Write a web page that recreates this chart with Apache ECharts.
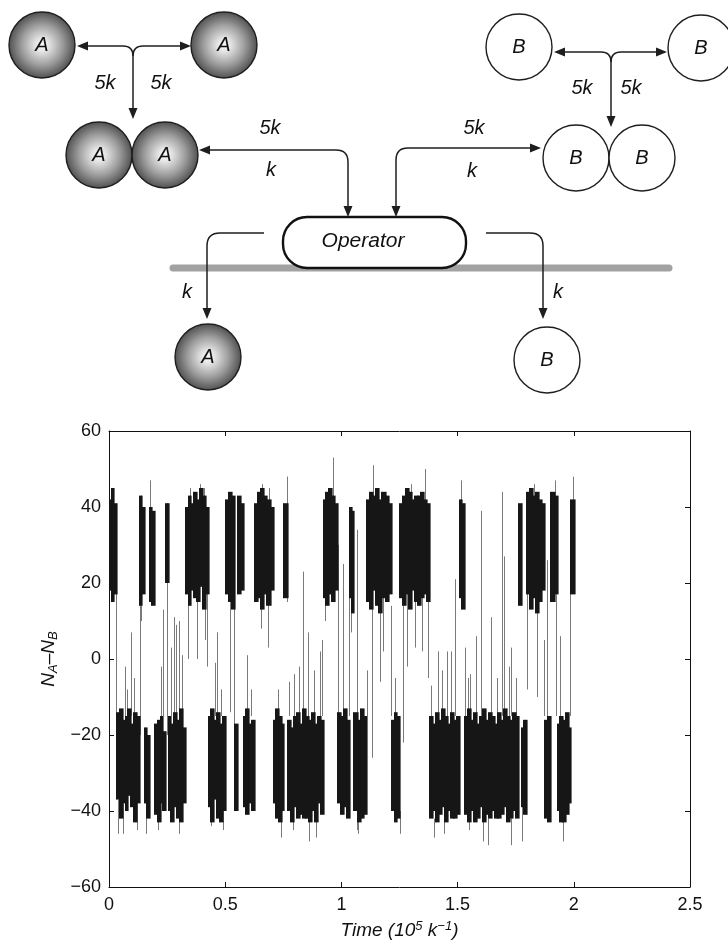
<!DOCTYPE html>
<html><head><meta charset="utf-8">
<script src="https://cdn.jsdelivr.net/npm/echarts@6/dist/echarts.min.js"></script>
<style>html,body{margin:0;padding:0;background:#fff}#c{width:728px;height:946px}</style>
</head><body><div id="c"></div>
<script>
// ---------- data (time in units of 10^5 k^-1, value N_A - N_B) ----------
const xTicks = [0, 0.5, 1, 1.5, 2, 2.5];
const yTicks = [-60, -40, -20, 0, 20, 40, 60];
// switching times; states alternate A (positive) / B (negative), first block is A
const blockEdges = [0, 0.031, 0.132, 0.151, 0.173, 0.197, 0.242, 0.254, 0.328, 0.426, 0.500,
  0.541, 0.552, 0.577, 0.627, 0.706, 0.753, 0.767, 0.921, 0.982, 1.033, 1.054, 1.107, 1.215,
  1.251, 1.377, 1.509, 1.528, 1.760, 1.774, 1.796, 1.872, 1.901, 1.929, 1.987, 2.003];
// upper edge of the dense trace within each block (read across the block)
const blockHi = [
  [42,45,41], [-14,-13,-16,-15,-13,-17,-14,-15], [43,40], [-18,-20], [40,39],
  [-17,-16,-15,-19], [41], [-15,-17,-14,-16,-13,-18], [40,43,41,44,42,45,43,40],
  [-15,-13,-16,-14,-17,-15], [42,44,43], [-17], [43,41], [-15,-13,-17,-16],
  [41,44,45,43,42,40], [-16,-13,-15,-17], [41],
  [-16,-18,-15,-14,-17,-13,-15,-16,-14,-17,-15,-16], [42,44,45,43,41], [-14,-15,-13,-16],
  [40,39], [-14,-16,-13,-15], [42,44,43,45,42,44,43,41], [-16,-14,-15],
  [41,43,45,44,42,43,43,44,42,41], [-15,-17,-14,-16,-13,-15,-17,-14,-16,-15], [42,41],
  [-15,-13,-16,-14,-17,-15,-13,-16,-14,-15,-17,-14,-16,-13,-15,-16,-14,-15], [41],
  [-18,-16], [44,45,43,44,42,41], [-16,-15], [44,43], [-17,-15,-16,-14,-18], [42]
];
// lower edge of the dense trace within each block
const blockLo = [
  [18,15,17], [-37,-42,-38,-40,-36,-39,-43,-38], [14,17], [-38,-42], [15,14],
  [-41,-43,-38,-40], [20], [-40,-43,-39,-42,-43,-38], [17,14,18,16,15,19,13,17],
  [-39,-43,-37,-42,-43,-40], [17,15,13], [-40], [17,18], [-39,-41,-38,-40],
  [15,16,13,17,14,18], [-38,-42,-43,-40], [16],
  [-40,-43,-39,-42,-41,-42,-42,-43,-40,-43,-38,-41], [16,14,17,15,18], [-38,-41,-39,-42],
  [16,12], [-40,-43,-42,-41], [15,13,18,14,12,16,15,17], [-40,-43,-42],
  [16,14,17,13,18,15,14,16,17,15], [-42,-40,-43,-41,-39,-43,-40,-42,-42,-41], [16,13],
  [-41,-43,-40,-43,-42,-39,-43,-41,-42,-40,-42,-42,-41,-39,-43,-42,-40,-42], [14],
  [-39,-41], [17,13,16,12,15,18], [-42,-43], [15,17], [-40,-43,-43,-41,-38], [17]
];
// isolated excursions drawn as thin lines: [time, low, high]
const spikes = [
  [0.012,40,45],[0.031,-20,30],[0.040,-46,-37],[0.060,-46,-38],[0.068,-15,-2],[0.079,-15,-8],
  [0.096,-15,7],[0.108,-15,-5],[0.120,-45,-38],[0.132,-20,30],[0.139,10,43],[0.160,-46,-38],
  [0.176,15,47],[0.210,-45,-40],[0.225,-15,-2],[0.232,-15,13],[0.250,-20,41],[0.268,-15,3],
  [0.278,-15,11],[0.290,-15,9],[0.300,-46,-40],[0.301,-15,10],[0.314,-15,1],[0.340,0,20],
  [0.350,40,45],[0.380,0,20],[0.390,40,46],[0.410,40,45],[0.412,5,20],[0.423,-2,20],
  [0.440,-44,-39],[0.455,-15,-1],[0.466,-15,7],[0.483,-15,-8],[0.490,-45,-40],[0.519,-14,20],
  [0.538,-20,20],[0.595,-15,1],[0.610,-15,-8],[0.655,8,20],[0.660,40,46],[0.684,3,20],
  [0.690,40,45],[0.727,-15,-8],[0.741,-47,-15],[0.766,15,48],[0.775,-15,-6],[0.790,-45,-40],
  [0.795,-15,-4],[0.816,-15,-2],[0.835,-15,23],[0.856,-15,7],[0.860,-48,-40],[0.882,-15,-3],
  [0.890,-47,-40],[0.907,-15,2],[0.917,-15,5],[0.928,10,20],[0.965,20,53],[0.985,-15,30],
  [1.007,-15,25],[1.031,-15,38],[1.043,7,20],[1.067,-45,34],[1.070,-46,-40],[1.110,-15,-3],
  [1.132,-26,20],[1.136,40,51],[1.165,-6,20],[1.180,2,20],[1.212,-15,14],[1.229,-15,-5],
  [1.250,-46,-40],[1.265,-22,20],[1.284,-2,20],[1.300,40,46],[1.315,3,20],[1.347,2,20],
  [1.361,20,50],[1.373,-5,20],[1.387,-15,-7],[1.400,-47,-42],[1.416,-15,2],[1.434,-15,-3],
  [1.440,-46,-42],[1.454,-15,2],[1.473,-15,2],[1.487,-15,21],[1.516,20,47],[1.533,-15,3],
  [1.545,-15,-5],[1.550,-45,-42],[1.552,-15,-4],[1.581,-15,6],[1.602,-15,39],[1.609,-48,-40],
  [1.630,-49,-42],[1.642,-15,11],[1.670,-15,-5],[1.692,-15,44],[1.700,-15,27],[1.720,-15,-2],
  [1.728,-15,3],[1.730,-49,-42],[1.750,-15,-5],[1.778,-48,-20],[1.800,-8,20],[1.830,40,46],
  [1.843,-10,20],[1.872,-15,5],[1.886,-15,26],[1.920,40,47],[1.925,-15,17],[1.939,-15,6],
  [1.953,-48,-40],[1.982,-15,22],[1.998,20,48]
];

// ---------- build trace columns from blocks ----------
const colData = [];
for (let b = 0; b < blockHi.length; b++) {
  const s = blockEdges[b], e = blockEdges[b + 1];
  const hi = blockHi[b], lo = blockLo[b], n = hi.length, w = (e - s) / n;
  for (let i = 0; i < n; i++) colData.push([s + i * w, s + (i + 1) * w, lo[i], hi[i]]);
}

// ---------- diagram helpers ----------
const INK = '#1e1e1e';
const FONT = "'Liberation Sans', Arial, sans-serif";
const els = [];
const ballFill = {
  type: 'radial', x: 0.5, y: 0.5, r: 0.5,
  colorStops: [{offset: 0, color: '#fbfbfb'}, {offset: 0.2, color: '#e4e4e4'},
               {offset: 0.6, color: '#9e9e9e'}, {offset: 1, color: '#4e4e4e'}]
};
function ball(cx, cy, label, filled) {
  els.push({type: 'circle', shape: {cx, cy, r: 33}, z: 10,
    style: {fill: filled ? ballFill : '#fff', stroke: INK, lineWidth: 1.4}});
  els.push({type: 'text', x: cx, y: cy, z: 11,
    style: {text: label, fill: '#111', font: 'italic 20px ' + FONT, align: 'center', verticalAlign: 'middle'}});
}
function txt(x, y, s, size) {
  els.push({type: 'text', x, y, z: 11,
    style: {text: s, fill: '#111', font: 'italic ' + (size || 20) + 'px ' + FONT, align: 'center', verticalAlign: 'middle'}});
}
function seg(x1, y1, x2, y2) {
  els.push({type: 'line', shape: {x1, y1, x2, y2}, z: 9, style: {stroke: INK, lineWidth: 1.5}});
}
function crv(x1, y1, cx, cy, x2, y2) {
  els.push({type: 'bezierCurve', shape: {x1, y1, cpx1: cx, cpy1: cy, x2, y2}, z: 9,
    style: {stroke: INK, lineWidth: 1.5, fill: null}});
}
function head(x, y, dir) {
  const L = 11, H = 4.5;
  let pts;
  if (dir === 'L') pts = [[x, y], [x + L, y - H], [x + L, y + H]];
  if (dir === 'R') pts = [[x, y], [x - L, y - H], [x - L, y + H]];
  if (dir === 'D') pts = [[x, y], [x - H, y - L], [x + H, y - L]];
  els.push({type: 'polygon', shape: {points: pts}, z: 9, style: {fill: INK}});
}

// top-left dimerisation (A)
ball(42, 45, 'A', true); ball(224, 45, 'A', true);
seg(85, 46, 123, 46); crv(123, 46, 133, 46, 133, 56); seg(133, 56, 133, 110);
seg(183, 46, 143, 46); crv(143, 46, 133, 46, 133, 56);
head(77, 46, 'L'); head(191, 46, 'R'); head(133, 119, 'D');
txt(105, 83, '5k'); txt(161, 83, '5k');
ball(99, 155, 'A', true); ball(165, 155, 'A', true);
// A2 <-> operator
seg(208, 150, 336, 150); crv(336, 150, 348, 150, 348, 162); seg(348, 162, 348, 208);
head(199, 150, 'L'); head(348, 217, 'D');
txt(270, 128, '5k'); txt(271, 170, 'k');

// top-right dimerisation (B)
ball(519, 47, 'B', false); ball(701, 48, 'B', false);
seg(562, 52, 601, 52); crv(601, 52, 611, 52, 611, 62); seg(611, 62, 611, 118);
seg(658, 52, 621, 52); crv(621, 52, 611, 52, 611, 62);
head(554, 52, 'L'); head(667, 52, 'R'); head(611, 127, 'D');
txt(582, 88, '5k'); txt(631, 88, '5k');
ball(576, 158, 'B', false); ball(642, 158, 'B', false);
// B2 <-> operator
seg(532, 148, 408, 148); crv(408, 148, 396, 148, 396, 160); seg(396, 160, 396, 208);
head(541, 148, 'R'); head(396, 217, 'D');
txt(474, 128, '5k'); txt(472, 171, 'k');

// DNA bar and operator
els.push({type: 'line', shape: {x1: 173, y1: 268, x2: 669, y2: 268}, z: 5,
  style: {stroke: '#a2a2a2', lineWidth: 7, lineCap: 'round'}});
els.push({type: 'rect', shape: {x: 283, y: 217, width: 183, height: 51, r: 24}, z: 8,
  style: {fill: '#fff', stroke: '#111', lineWidth: 2.4}});
txt(363, 241, 'Operator', 21);

// production arrows
seg(264, 233, 220, 233); crv(220, 233, 207, 233, 207, 246); seg(207, 246, 207, 310);
head(207, 319, 'D'); txt(187, 292, 'k');
seg(486, 233, 530, 233); crv(530, 233, 543, 233, 543, 246); seg(543, 246, 543, 310);
head(543, 319, 'D'); txt(558, 292, 'k');
ball(208, 357, 'A', true); ball(547, 360, 'B', false);

// ---------- chart ----------
const chart = echarts.init(document.getElementById('c'));
const minus = v => (v < 0 ? '\u2212' + (-v) : String(v));
const axisBase = {
  axisLine: {show: true, onZero: false, lineStyle: {color: '#111', width: 1}},
  axisTick: {show: true, inside: true, length: 5, lineStyle: {color: '#111', width: 1}},
  splitLine: {show: false}
};
chart.setOption({
  animation: false,
  backgroundColor: '#fff',
  grid: {left: 109, right: 38, top: 431, bottom: 59, containLabel: false},
  xAxis: [
    Object.assign({type: 'value', min: xTicks[0], max: xTicks[xTicks.length - 1], interval: 0.5,
      position: 'bottom',
      axisLabel: {fontSize: 18, color: '#111', fontFamily: FONT, margin: 9, formatter: v => String(v)},
      name: '{i|Time (10}{s|5}{i| k}{s|\u22121}{i|)}', nameLocation: 'middle', nameGap: 33,
      nameTextStyle: {rich: {
        i: {fontSize: 19, fontStyle: 'italic', fontFamily: FONT, color: '#111', lineHeight: 22},
        s: {fontSize: 13, fontStyle: 'italic', fontFamily: FONT, color: '#111', verticalAlign: 'top', lineHeight: 14}
      }}}, axisBase),
    Object.assign({type: 'value', min: xTicks[0], max: xTicks[xTicks.length - 1], interval: 0.5,
      position: 'top', axisLabel: {show: false}}, axisBase)
  ],
  yAxis: [
    Object.assign({type: 'value', min: yTicks[0], max: yTicks[yTicks.length - 1], interval: 20,
      position: 'left',
      axisLabel: {fontSize: 18, color: '#111', fontFamily: FONT, margin: 8, formatter: minus},
      name: '{i|N}{s|A}{i|\u2013N}{s|B}', nameLocation: 'middle', nameGap: 44, nameRotate: 90,
      nameTextStyle: {rich: {
        i: {fontSize: 19, fontStyle: 'italic', fontFamily: FONT, color: '#111', lineHeight: 22},
        s: {fontSize: 13, fontStyle: 'italic', fontFamily: FONT, color: '#111', verticalAlign: 'bottom', lineHeight: 14}
      }}}, axisBase),
    Object.assign({type: 'value', min: yTicks[0], max: yTicks[yTicks.length - 1], interval: 20,
      position: 'right', axisLabel: {show: false}}, axisBase)
  ],
  graphic: {elements: els},
  series: [
    {
      type: 'custom', name: 'excursions', xAxisIndex: 0, yAxisIndex: 0, clip: true, silent: true, z: 2,
      data: spikes, encode: {x: 0, y: [1, 2]},
      renderItem: (params, api) => {
        const a = api.coord([api.value(0), api.value(1)]);
        const b = api.coord([api.value(0), api.value(2)]);
        const x = Math.round(a[0]) + 0.5;
        return {type: 'line', shape: {x1: x, y1: a[1], x2: x, y2: b[1]},
          style: {stroke: '#7a7a7a', lineWidth: 1}};
      }
    },
    {
      type: 'custom', name: 'trace', xAxisIndex: 0, yAxisIndex: 0, clip: true, silent: true, z: 3,
      data: colData, encode: {x: [0, 1], y: [2, 3]},
      renderItem: (params, api) => {
        const p0 = api.coord([api.value(0), api.value(3)]);
        const p1 = api.coord([api.value(1), api.value(2)]);
        const x0 = Math.floor(p0[0]), x1 = Math.ceil(p1[0]);
        return {type: 'rect', shape: {x: x0, y: p0[1], width: Math.max(x1 - x0, 1) + 0.6, height: p1[1] - p0[1]},
          style: {fill: '#161616', stroke: null}};
      }
    }
  ]
});
</script>
</body></html>
